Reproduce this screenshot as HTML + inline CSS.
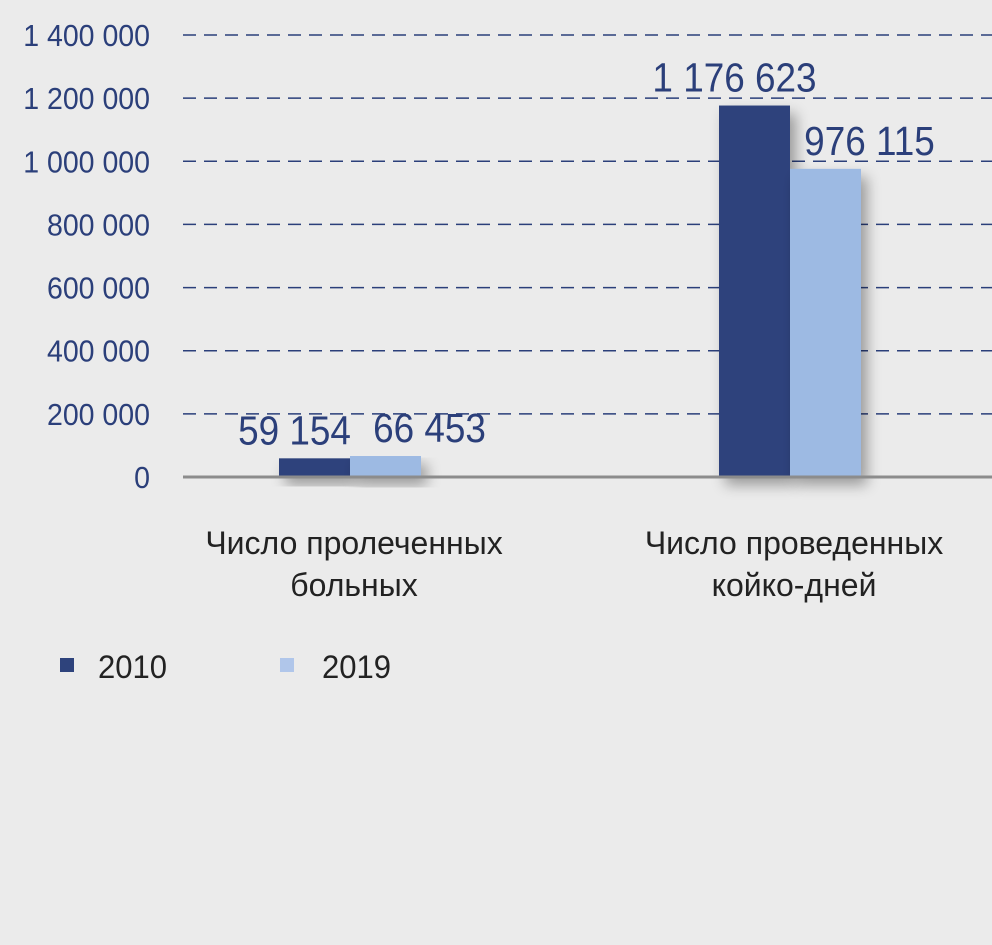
<!DOCTYPE html>
<html><head><meta charset="utf-8">
<style>
html,body{margin:0;padding:0;background:#ebebeb;}
svg{display:block;}
text{font-family:"Liberation Sans Narrow","Liberation Sans",sans-serif;}
</style></head>
<body>
<svg id="chart" width="992" height="945" viewBox="0 0 992 945" xmlns="http://www.w3.org/2000/svg">
<defs>
<filter id="sh" x="-30%" y="-30%" width="180%" height="180%">
<feGaussianBlur in="SourceAlpha" stdDeviation="7"/>
<feOffset dx="6" dy="8" result="b"/>
<feComponentTransfer><feFuncA type="linear" slope="0.35"/></feComponentTransfer>
<feMerge><feMergeNode/><feMergeNode in="SourceGraphic"/></feMerge>
</filter>
</defs>
<rect width="992" height="945" fill="#ebebeb"/>
<g id="grid"></g><g id="bars"></g><g id="labels"></g>
</svg>
<script>
const categories = [["Число пролеченных","больных"],["Число проведенных","койко-дней"]];
const series2010 = [59154, 1176623];
const series2019 = [66453, 976115];
const valueLabels2010 = ["59 154","1 176 623"];
const valueLabels2019 = ["66 453","976 115"];
const yTicks = [0,200000,400000,600000,800000,1000000,1200000,1400000];
const yTickLabels = ["0","200 000","400 000","600 000","800 000","1 000 000","1 200 000","1 400 000"];

const NS="http://www.w3.org/2000/svg";
const y0=477, yTop=35, yMax=1400000;
const y=v=>y0-(v/yMax)*(y0-yTop);
const catCenter=i=>350+i*440;
const bw=71;
function mk(tag,attrs,parent,txt){const e=document.createElementNS(NS,tag);for(const k in attrs)e.setAttribute(k,attrs[k]);if(txt!==undefined)e.textContent=txt;parent.appendChild(e);return e;}
function tx(x,yy,sx,attrs,parent,txt){attrs.x=0;attrs.y=0;attrs.transform='translate('+x+','+yy+') scale('+sx+',1)';return mk('text',attrs,parent,txt);}
const grid=document.getElementById('grid'),bars=document.getElementById('bars'),labels=document.getElementById('labels');

yTicks.forEach((t,i)=>{
  if(t>0){const l=mk('line',{x1:183,x2:992,y1:y(t),y2:y(t),stroke:'#2b3f7a','stroke-width':1.5,'stroke-dasharray':'13 8'},grid);
  
  }
  const t2=tx(150,y(t)+11,0.92,{'text-anchor':'end','font-size':31,fill:'#2b3f7a'},labels,yTickLabels[i]);
  
  
});

const cols=['#2e437c','#9dbae3'];
const sers=[series2010,series2019];
const vls=[valueLabels2010,valueLabels2019];
const dxs=[-20,44];
categories.forEach((c,i)=>{
  sers.forEach((s,j)=>{
    const x=catCenter(i)-bw+j*bw;
    const r=mk('rect',{x:x,y:y(s[i]),width:bw,height:y0-y(s[i]),fill:cols[j],filter:'url(#sh)'},bars);
    
    
    const t=tx(x+bw/2+dxs[j],y(s[i])-14,0.9,{'text-anchor':'middle','font-size':41,fill:'#2b3f7a'},labels,vls[j][i]);
    
    
  });
  c.forEach((line,k)=>{
    const t=tx(catCenter(i)+4,554+k*42,1.0,{'text-anchor':'middle','font-size':32,fill:'#222'},labels,line);
    
    
  });
});
const ax=mk('line',{x1:183,x2:992,y1:y0,y2:y0,stroke:'#8c8c8c','stroke-width':3},labels);



[['2010',60,98],['2019',280,322]].forEach((L,j)=>{
  const g=mk('g',{},labels);
  
  
  mk('rect',{x:L[1],y:658,width:14,height:14,fill:j===0?'#2e437c':'#b0c6ea'},g);
  tx(L[2],678,0.97,{'font-size':32,fill:'#222'},g,L[0]);
});
</script>
</body></html>
